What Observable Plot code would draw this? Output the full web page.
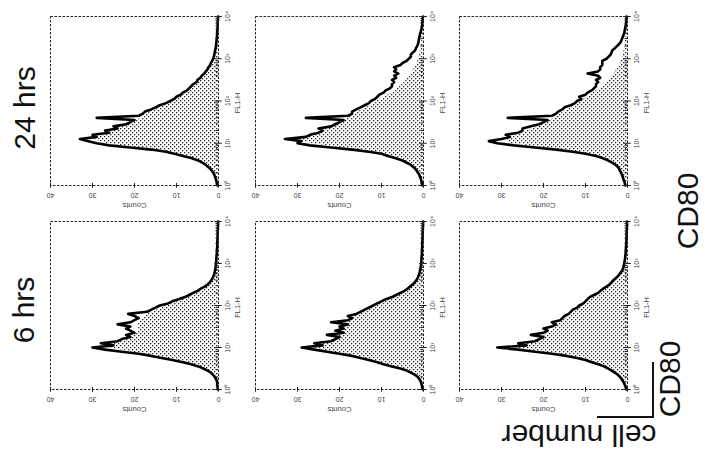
<!DOCTYPE html>
<html><head><meta charset="utf-8">
<script src="https://cdn.jsdelivr.net/npm/d3@7"></script>
<script src="https://cdn.jsdelivr.net/npm/@observablehq/plot@0.6"></script>
<style>
body{margin:0;background:#fff;}
#fig{position:relative;width:705px;height:452px;overflow:hidden;background:#fff;font-family:"Liberation Sans",Arial,sans-serif;}
.panel{position:absolute;}
.big{position:absolute;font-size:30px;line-height:24px;white-space:nowrap;color:#111;}
.keyline{position:absolute;background:#111;}
</style></head><body>
<svg width="0" height="0" style="position:absolute"><defs>
<pattern id="stip" patternUnits="userSpaceOnUse" width="4" height="4">
<rect width="4" height="4" fill="#fff"/><rect x="0" y="0" width="1.3" height="1.3" fill="#222"/><rect x="2" y="2" width="1.3" height="1.3" fill="#222"/>
</pattern></defs></svg>
<div id="fig"></div>
<script>
// ---------- text ----------
const rowLabels = ["24 hrs", "6 hrs"];
const sideLabel = "CD80";
const keyLabelX = "CD80";
const keyLabelY = "cell number";
const axisTitleX = "Counts";
const axisTitleY = "FL1-H";
const decadeTicks = [1, 10, 100, 1000, 10000];
const decadeLabels = ["10⁰", "10¹", "10²", "10³", "10⁴"];
const countTicks = [0, 10, 20, 30, 40];
const countLabels = ["0", "10", "20", "30", "40"];

// ---------- black outline histograms: counts at FL1-H = 10^(0.05*i), i = 0..80 ----------
const line24a = [0.3,0.4,0.5,0.6,0.8,1.0,1.2,1.6,2.0,2.6, 3.2,4.0,5.0,6.5,8.5,10.5,12.5,16,21,26,
 29,31,33,29,30,26,27,24,25,22, 21,20,29,19,18,17.5,16,15,14,12.5,
 11.5,10.5,10,9,8.5,7.5,7,6.5,6,5.2, 5,4.3,4,3.4,3,2.6,2.4,2,1.8,1.5,
 1.3,1.1,1,0.9,0.8,0.7,0.6,0.55,0.5,0.45, 0.4,0.35,0.3,0.3,0.25,0.2,0.2,0.2,0.15,0.1, 0.1];
const line24b = [0.3,0.4,0.5,0.6,0.8,1.0,1.3,1.6,2.0,2.6, 3.2,4.2,5.2,6.8,8.5,10,13,17,22,27,
 30,29,33,28,27,25,24,25,22,21, 20,19,28,18,17,17,16,15,14,13,
 12.5,11.5,11,10.5,9.5,9,8,7.5,7.5,7, 7.5,6.5,7,6,7,6.5,7,5.5,5,4,
 3.5,3,3,2.5,2,1.8,1.5,1.3,1.2,1.1, 1,0.9,0.8,0.6,0.5,0.4,0.3,0.3,0.2,0.2, 0.1];
const line24c = [0.5,0.6,0.8,1.0,1.1,1.3,1.5,1.8,2.0,2.4, 3,3.8,4.8,6,7.5,10,13,17,22,27,
 31,33,30,28,29,26,25,25,23,21, 20,19,28.5,18,17,16.5,15.5,15,13.5,12.5,
 12,11,11.5,10,9.5,8.5,8,7.5,7.5,7, 7.5,6.5,7,9.5,7,6.5,6.5,6,6,6,
 5,4.5,4,3.8,3.6,3,2.5,2,1.6,1.4, 1.2,1,0.8,0.7,0.6,0.5,0.4,0.3,0.3,0.2, 0.2];
const line6a = [0.2,0.2,0.3,0.3,0.4,0.6,0.9,1.3,1.8,2.6, 3.6,4.8,6.5,8.5,11,13.5,16,19,23,27,
 30,25,28,24,23,21,22,20,21,22, 21,24,21,20,19,20,21.5,17,16,15,
 14,12,11,9.5,8,7,6,5,4.2,3.3, 2.6,2.1,1.7,1.4,1.2,1,0.9,0.8,0.7,0.65,
 0.6,0.55,0.5,0.5,0.45,0.4,0.4,0.35,0.3,0.3, 0.3,0.25,0.25,0.2,0.2,0.2,0.15,0.15,0.1,0.1, 0.1];
const line6b = [0.2,0.3,0.4,0.5,0.7,1.0,1.4,2.0,3,4, 5.5,7.5,9.5,11,13,15,17,20,23,26,
 29,24,26,22,21,20,23,19,21,19, 20,18,22,18,17,18,16,15,14,13,
 12,11,10,9,7.5,6.5,5.5,4.5,3.8,3.2, 2.6,2.1,1.7,1.4,1.2,1,0.9,0.8,0.7,0.6,
 0.55,0.5,0.5,0.45,0.4,0.4,0.35,0.35,0.3,0.3, 0.3,0.25,0.25,0.2,0.2,0.2,0.15,0.15,0.1,0.1, 0.1];
const line6c = [0.3,0.4,0.6,0.8,1.1,1.4,1.8,2.3,3,3.8, 4.6,5.6,7,8.5,10,12,14.5,18,22,26,
 31,24,26,22,21,20,23,20,19,20, 18,17,18,16,15.5,15,14,13.5,13,12,
 11.5,10.5,10,9.5,9,8,7,6.4,5.8,5, 4.3,3.8,3.4,2.8,2.3,1.9,1.5,1.2,1,0.9,
 0.8,0.7,0.6,0.55,0.5,0.45,0.4,0.4,0.35,0.3, 0.3,0.25,0.25,0.2,0.2,0.2,0.15,0.15,0.1,0.1, 0.1];

// ---------- stippled filled histograms: counts at FL1-H = 10^(0.1*i), i = 0..40 ----------
const fill24a = [0.3,0.5,0.8,1.2,2,3.2,5,8,12,20, 27,30,27,25,23,20,18.5,17,15,13,
 11,9.5,8,6.5,5.5,4.5,3.6,2.8,2.2,1.6, 1.2,0.9,0.7,0.5,0.4,0.35,0.3,0.2,0.2,0.1, 0.1];
const fill24b = [0.3,0.5,0.8,1.3,2,3.2,5,8,12,20, 27,30,26,24,22,19.5,18,16.5,14.5,12.5,
 11,9,7.5,6,5,4,3.3,2.6,2,1.5, 1.2,0.9,0.7,0.5,0.4,0.35,0.3,0.2,0.2,0.1, 0.1];
const fill24c = [0.5,0.8,1.1,1.5,2,3,4.8,7.5,12,20, 28,29,26,24,21,19,17.5,16,14,12.5,
 11,9.5,8,6.5,5.5,4.5,3.6,2.8,2.2,1.7, 1.3,1,0.8,0.6,0.5,0.4,0.3,0.25,0.2,0.15, 0.1];
const fill6a = [0.2,0.3,0.4,0.8,1.6,3.2,6,10,15,21, 26,25,22,20,19,19,19,18,17,14.5,
 12.5,9.5,7,5,3.5,2.3,1.5,1.1,0.8,0.6, 0.5,0.45,0.4,0.35,0.3,0.25,0.2,0.2,0.15,0.1, 0.1];
const fill6b = [0.2,0.4,0.7,1.4,3,5.5,9.5,13,17,23, 26,24,21,20,19,18.5,18,17,15.5,13.5,
 12,10,7.5,5.5,3.8,2.6,1.7,1.2,0.9,0.7, 0.55,0.5,0.4,0.35,0.3,0.3,0.25,0.2,0.15,0.1, 0.1];
const fill6c = [0.3,0.6,1.1,1.8,3,4.6,7,10,14,21, 27,24,21,19.5,18,17,16,14.5,13,12,
 11,9.5,8.5,6.5,5,4,3,2,1.4,1, 0.8,0.6,0.5,0.4,0.35,0.3,0.25,0.2,0.15,0.1, 0.1];

// ---------- layout ----------
const lines = [[line24a, line24b, line24c], [line6a, line6b, line6c]];
const fills = [[fill24a, fill24b, fill24c], [fill6a, fill6b, fill6c]];
const panelLeft = [50, 255, 459];
const panelTop = [16, 221];
const panelW = 168;
const panelH = [169, 168];
const mL = 12, mR = 36, mT = 10, mB = 36;
const minorTicks = [];
for (const d of [1, 10, 100, 1000]) for (let k = 2; k <= 9; k++) minorTicks.push(d * k);

const fig = document.getElementById("fig");
const font = '"Liberation Sans", Arial, sans-serif';

for (let r = 0; r < 2; r++) {
  for (let c = 0; c < 3; c++) {
    const lineData = lines[r][c].map((v, i) => ({fl: Math.pow(10, i * 0.05), count: v}));
    const fillData = fills[r][c].map((v, i) => ({fl: Math.pow(10, i * 0.1), count: v}));
    const H = panelH[r];
    const svg = Plot.plot({
      width: panelW + mL + mR, height: H + mT + mB,
      marginLeft: mL, marginRight: mR, marginTop: mT, marginBottom: mB,
      style: {background: "transparent", fontFamily: font, overflow: "visible"},
      x: {domain: [40, 0], axis: null},
      y: {type: "log", domain: [1, 10000], axis: null},
      marks: [
        Plot.areaX(fillData, {y: "fl", x: "count", fill: "url(#stip)"}),
        Plot.lineX(lineData, {y: "fl", x: "count", stroke: "#000", strokeWidth: 2.6}),
        Plot.frame({stroke: "#222", strokeDasharray: "2.5,1.5"}),
        Plot.ruleY(decadeTicks, {y: d => d, x1: 0.9, x2: -0.9, stroke: "#222"}),
        Plot.ruleY(minorTicks, {y: d => d, x1: 0.6, x2: 0, stroke: "#222"}),
        Plot.ruleX(countTicks, {x: d => d, y1: 1.12, y2: 0.86, stroke: "#222"}),
        Plot.text(decadeTicks, {x: 0, y: d => d, text: (d, i) => decadeLabels[i], rotate: -90, dx: 9, fontSize: 7, fill: "#444"}),
        Plot.text([axisTitleY], {x: 0, y: 90, text: d => d, rotate: -90, dx: 19, fontSize: 7.5, fill: "#444"}),
        Plot.text(countTicks, {x: d => d, y: 1, text: (d, i) => countLabels[i], rotate: 180, dy: 10, fontSize: 7, fill: "#444"}),
        Plot.text([axisTitleX], {x: 20, y: 1, text: d => d, rotate: 180, dy: 20, fontSize: 7.5, fill: "#444"})
      ]
    });
    svg.classList.add("panel");
    svg.style.left = (panelLeft[c] - mL) + "px";
    svg.style.top = (panelTop[r] - mT) + "px";
    fig.appendChild(svg);
  }
}

function bigLabel(text, cx, cy, rot) {
  const d = document.createElement("div");
  d.className = "big";
  d.textContent = text;
  d.style.left = cx + "px";
  d.style.top = cy + "px";
  d.style.transform = `translate(-50%,-50%) rotate(${rot}deg)`;
  fig.appendChild(d);
}
bigLabel(rowLabels[0], 25, 108, -90);
bigLabel(rowLabels[1], 24, 310, -90);
bigLabel(sideLabel, 688, 211, -90);
bigLabel(keyLabelX, 670, 379, -90);
bigLabel(keyLabelY, 579, 435, 180);

function keyLine(x, y, w, h) {
  const d = document.createElement("div");
  d.className = "keyline";
  d.style.left = x + "px"; d.style.top = y + "px";
  d.style.width = w + "px"; d.style.height = h + "px";
  fig.appendChild(d);
}
keyLine(652, 362, 2, 56);
keyLine(597, 416, 57, 2);
</script></body></html>
